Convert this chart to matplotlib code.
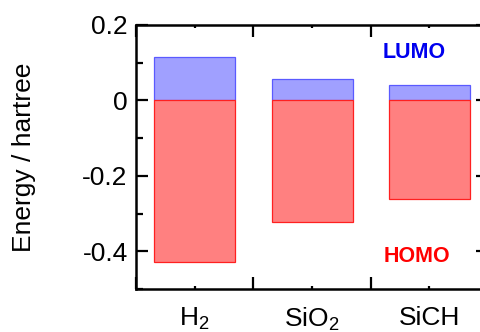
import numpy as np
import matplotlib
matplotlib.use("Agg")
import matplotlib.pyplot as plt
from matplotlib.ticker import MultipleLocator

plt.rcParams["font.family"] = ["Liberation Sans", "DejaVu Sans"]
plt.rcParams["mathtext.fontset"] = "custom"
plt.rcParams["mathtext.rm"] = "Liberation Sans"
plt.rcParams["mathtext.default"] = "regular"

# valeurs (hartree)
molecules = ["H$_2$", "SiO$_2$", "SiCH"]
lumo = [0.114, 0.058, 0.040]
homo = [-0.428, -0.322, -0.261]

fig = plt.figure(figsize=(4.81, 3.32), dpi=100)
ax = fig.add_axes([0.2827, 0.1295, 0.732, 0.7952])

x = np.arange(len(molecules))
ax.bar(x, lumo, width=0.69, color="#a0a0ff", edgecolor="#5a5aff", linewidth=0.9)
ax.bar(x, homo, width=0.69, color="#ff8080", edgecolor="#ff2020", linewidth=0.9)

ax.text(1.87, 0.126, "LUMO", color="#0000ee", fontsize=15.5, fontweight="bold",
        ha="center", va="center")
ax.text(1.89, -0.413, "HOMO", color="#ff0000", fontsize=15.5, fontweight="bold",
        ha="center", va="center")

ax.set_xlim(-0.5, 2.5)
ax.set_ylim(-0.5, 0.2)
ax.xaxis.set_major_locator(MultipleLocator(1.0, offset=0.5))
ax.xaxis.set_major_formatter(plt.NullFormatter())
ax.set_xticks(x, minor=True)
ax.set_xticklabels(molecules, minor=True)
ax.yaxis.set_minor_locator(MultipleLocator(0.1))
ax.set_yticks([-0.4, -0.2, 0, 0.2])
ax.set_yticklabels(["-0.4", "-0.2", "0", "0.2"])

ax.tick_params(which="both", direction="in", top=True, right=True, width=1.6)
ax.tick_params(axis="y", which="major", length=8.6, labelsize=19, pad=6)
ax.tick_params(axis="y", which="minor", length=5)
ax.tick_params(axis="x", which="major", length=8.6)
ax.tick_params(axis="x", which="minor", length=2, labelsize=19, pad=12)
for s in ax.spines.values():
    s.set_linewidth(1.8)

ax.set_ylabel("Energy / hartree", fontsize=19, labelpad=33)

fig.savefig("out.png", dpi=100)
